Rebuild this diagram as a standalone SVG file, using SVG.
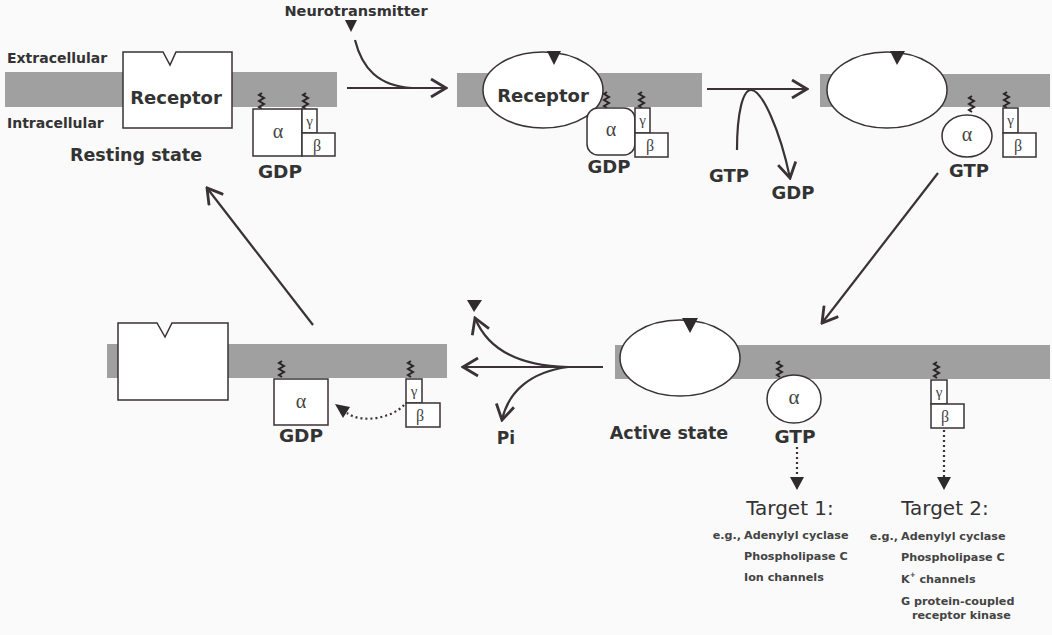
<svg xmlns="http://www.w3.org/2000/svg" width="1052" height="635" viewBox="0 0 1052 635">
<defs>
<marker id="ah" viewBox="-16 -10 18 20" refX="0" refY="0" markerWidth="18" markerHeight="20" markerUnits="userSpaceOnUse" orient="auto">
<path d="M-15,-9 L0,0 L-15,9" fill="none" stroke="#3a3236" stroke-width="2.8" stroke-linejoin="miter"/>
</marker>
</defs>
<style>
.mem{fill:#a0a0a0}
.box{fill:#ffffff;stroke:#3a3236;stroke-width:1.5}
.ln{fill:none;stroke:#3a3236;stroke-width:2.2}
.dot{fill:none;stroke:#3a3236;stroke-width:2.2;stroke-dasharray:2 3}
.sq{fill:none;stroke:#2a2427;stroke-width:2}
.nt{fill:#2f2a2c}
.t{font-family:"DejaVu Sans",sans-serif;font-weight:bold;fill:#333;dominant-baseline:central}
.g{font-family:"Liberation Serif","DejaVu Serif",serif;fill:#444;text-anchor:middle;dominant-baseline:central}
.tg{font-family:"DejaVu Sans",sans-serif;fill:#333;font-size:20px;dominant-baseline:central}
.s{font-family:"DejaVu Sans",sans-serif;font-weight:bold;fill:#444;font-size:11.2px;dominant-baseline:central}
</style>
<rect width="1052" height="635" fill="#fafafa"/>

<!-- membranes -->
<g id="membranes">
<rect class="mem" x="5" y="72" width="332" height="35"/>
<rect class="mem" x="457" y="73" width="245" height="34"/>
<rect class="mem" x="820" y="74" width="230" height="33"/>
<rect class="mem" x="107" y="344" width="340" height="34"/>
<rect class="mem" x="615" y="345" width="435" height="34"/>
</g>

<g id="labels">
<text class="t" x="7" y="58" font-size="14">Extracellular</text>
<text class="t" x="7" y="123" font-size="14">Intracellular</text>
<text class="t" x="70" y="155" font-size="17.5">Resting state</text>
<text class="t" x="356" y="11" font-size="14.5" text-anchor="middle">Neurotransmitter</text>
<path class="nt" d="M345,20 L357,20 L351,32 Z"/>
</g>

<!-- state 1: resting -->
<g id="resting-receptor">
<path class="box" d="M123,52 L163,52 L170,65 L176,52 L232,52 L232,128 L123,128 Z"/>
<text class="t" x="176" y="97" font-size="18" text-anchor="middle">Receptor</text>
</g>
<g id="resting-gprotein">
<path class="sq" d="M262,93 l-3,2 l5,3 l-5,3 l5,3 l-5,3 l3,2"/>
<path class="sq" d="M306,93 l-3,2 l5,3 l-5,3 l5,3 l-5,3 l3,2"/>
<rect class="box" x="253" y="109" width="49" height="47"/>
<rect class="box" x="302" y="109" width="15" height="24"/>
<rect class="box" x="302" y="133" width="33" height="23"/>
<text class="g" x="278" y="131" font-size="20">α</text>
<text class="g" x="309.5" y="121" font-size="15">γ</text>
<text class="g" x="317" y="145" font-size="16">β</text>
<text class="t" x="280" y="171" font-size="18.5" text-anchor="middle">GDP</text>
</g>

<!-- state 2 -->
<g id="bound-receptor">
<ellipse class="box" cx="543" cy="90" rx="60" ry="38"/>
<path class="nt" d="M547,51 L561,51 L554,65 Z"/>
<text class="t" x="543" y="95" font-size="18" text-anchor="middle">Receptor</text>
</g>
<g id="bound-gprotein">
<path class="sq" d="M607,92 l-3,2 l5,3 l-5,3 l5,3 l-5,3 l3,2"/>
<path class="sq" d="M642,92 l-3,2 l5,3 l-5,3 l5,3 l-5,3 l3,2"/>
<rect class="box" x="587" y="108" width="48" height="47" rx="11"/>
<rect class="box" x="635" y="108" width="15" height="25"/>
<rect class="box" x="635" y="133" width="33" height="24"/>
<text class="g" x="611" y="129" font-size="20">α</text>
<text class="g" x="642.5" y="120" font-size="15">γ</text>
<text class="g" x="650" y="145" font-size="16">β</text>
<text class="t" x="609" y="166" font-size="18" text-anchor="middle">GDP</text>
</g>

<!-- state 3 -->
<g id="exchanged-receptor">
<ellipse class="box" cx="887" cy="90" rx="60" ry="38"/>
<path class="nt" d="M890,51 L905,51 L897,65 Z"/>
</g>
<g id="exchanged-gprotein">
<path class="sq" d="M972,96 l-3,2 l5,3 l-5,3 l5,3 l-5,3 l3,2"/>
<path class="sq" d="M1007,92 l-3,2 l5,3 l-5,3 l5,3 l-5,3 l3,2"/>
<ellipse class="box" cx="967" cy="136" rx="25" ry="21"/>
<rect class="box" x="1003" y="108" width="15" height="25"/>
<rect class="box" x="1003" y="133" width="33" height="24"/>
<text class="g" x="967" y="134" font-size="20">α</text>
<text class="g" x="1010.5" y="120" font-size="15">γ</text>
<text class="g" x="1018" y="145" font-size="16">β</text>
<text class="t" x="969" y="170" font-size="18" text-anchor="middle">GTP</text>
</g>

<!-- active state -->
<g id="active-receptor">
<ellipse class="box" cx="680" cy="358" rx="60" ry="38"/>
<path class="nt" d="M682,318 L698,318 L690,333 Z"/>
<text class="t" x="669" y="433" font-size="17.5" text-anchor="middle">Active state</text>
</g>
<g id="active-alpha">
<path class="sq" d="M780,361 l-3,2 l5,3 l-5,3 l5,3 l-5,3 l3,2"/>
<ellipse class="box" cx="794" cy="399" rx="27" ry="24"/>
<text class="g" x="794" y="397" font-size="21">α</text>
<text class="t" x="795" y="436" font-size="18.5" text-anchor="middle">GTP</text>
</g>
<g id="active-betagamma">
<path class="sq" d="M937,362 l-3,2 l5,3 l-5,3 l5,3 l-5,3 l3,2"/>
<rect class="box" x="931" y="380" width="16" height="24"/>
<rect class="box" x="931" y="404" width="33" height="24"/>
<text class="g" x="939" y="392" font-size="15">γ</text>
<text class="g" x="945" y="416" font-size="16">β</text>
</g>

<!-- targets -->
<g id="target1">
<text class="tg" x="790" y="508" text-anchor="middle">Target 1:</text>
<text class="s" x="741" y="535" text-anchor="end">e.g.,</text>
<text class="s" x="744" y="535">Adenylyl cyclase</text>
<text class="s" x="744" y="556">Phospholipase C</text>
<text class="s" x="744" y="577">Ion channels</text>
</g>
<g id="target2">
<text class="tg" x="945" y="508" text-anchor="middle">Target 2:</text>
<text class="s" x="898" y="536" text-anchor="end">e.g.,</text>
<text class="s" x="901" y="536">Adenylyl cyclase</text>
<text class="s" x="901" y="557">Phospholipase C</text>
<text class="s" x="901" y="579">K<tspan font-size="7" dy="-4">+</tspan><tspan dy="4"> channels</tspan></text>
<text class="s" x="901" y="601">G protein-coupled</text>
<text class="s" x="912" y="615">receptor kinase</text>
</g>

<!-- deactivated state -->
<g id="inactive-receptor">
<path class="box" d="M118,323 L157,323 L165,337 L172,323 L228,323 L228,400 L118,400 Z"/>
</g>
<g id="inactive-gprotein">
<path class="sq" d="M282,361 l-3,2 l5,3 l-5,3 l5,3 l-5,3 l3,2"/>
<path class="sq" d="M411,361 l-3,2 l5,3 l-5,3 l5,3 l-5,3 l3,2"/>
<rect class="box" x="274" y="379" width="54" height="46"/>
<rect class="box" x="406" y="379" width="16" height="24"/>
<rect class="box" x="406" y="403" width="34" height="24"/>
<text class="g" x="301" y="401" font-size="20">α</text>
<text class="g" x="414" y="391" font-size="15">γ</text>
<text class="g" x="420" y="415" font-size="16">β</text>
<text class="t" x="301" y="435" font-size="18.5" text-anchor="middle">GDP</text>
</g>

<g id="released">
<path class="nt" d="M467,300 L482,300 L474,312 Z"/>
<text class="t" x="506" y="438" font-size="17" text-anchor="middle">Pi</text>
<text class="t" x="729" y="175" font-size="18" text-anchor="middle">GTP</text>
<text class="t" x="793" y="192" font-size="18" text-anchor="middle">GDP</text>
</g>

<!-- connectors -->
<g id="connectors">
<path class="ln" d="M347,88 L446,88" marker-end="url(#ah)"/>
<path class="ln" d="M355,40 C362,68 378,86 412,88"/>
<path class="ln" d="M707,89 L807,89" marker-end="url(#ah)"/>
<path class="ln" d="M737,150 C737,112 743,90 751,90 C762,90 780,130 790,178" marker-end="url(#ah)"/>
<path class="ln" d="M938,173 L822,323" marker-end="url(#ah)"/>
<path class="ln" d="M603,367 L463,367" marker-end="url(#ah)"/>
<path class="ln" d="M568,367 C520,366 488,350 475,318" marker-end="url(#ah)"/>
<path class="ln" d="M568,367 C530,372 508,392 502,420" marker-end="url(#ah)"/>
<path class="ln" d="M313,325 L207,188" marker-end="url(#ah)"/>
<path class="dot" d="M404,405 C392,418 362,424 347,413"/>
<path class="nt" d="M335,404 L350,407 L343,418 Z"/>
<path class="dot" d="M797,447 L797,478"/>
<path class="nt" d="M790,477 L804,477 L797,490 Z"/>
<path class="dot" d="M944,430 L944,478"/>
<path class="nt" d="M937,477 L951,477 L944,490 Z"/>
</g>
</svg>
